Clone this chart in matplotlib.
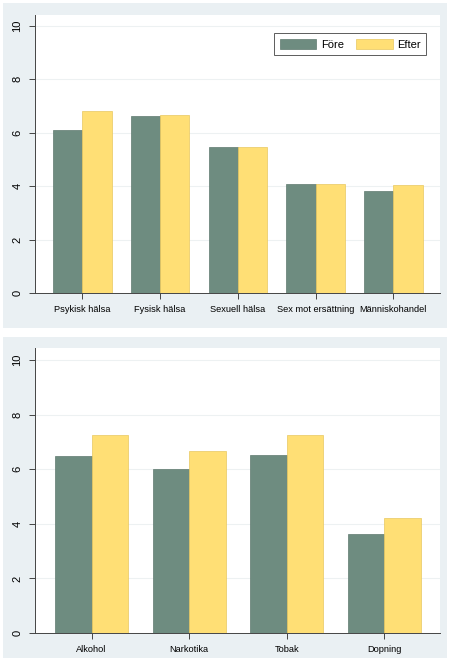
import matplotlib.pyplot as plt
import numpy as np
from matplotlib.patches import Rectangle

plt.rcParams['font.family'] = ['Liberation Sans', 'DejaVu Sans']

# data
cats_top = ['Psykisk hälsa', 'Fysisk hälsa', 'Sexuell hälsa', 'Sex mot ersättning', 'Människohandel']
fore_top = [6.11, 6.61, 5.47, 4.08, 3.83]
efter_top = [6.82, 6.66, 5.46, 4.09, 4.04]

cats_bot = ['Alkohol', 'Narkotika', 'Tobak', 'Dopning']
fore_bot = [6.50, 5.99, 6.52, 3.61]
efter_bot = [7.24, 6.67, 7.27, 4.22]

yticks = [0, 2, 4, 6, 8, 10]

c_fore = '#6e8c80'
c_efter = '#ffdf75'
panel_bg = '#eaf0f3'

W, H = 450, 660
fig = plt.figure(figsize=(4.5, 6.6), dpi=100)
fig.patch.set_facecolor('white')

# light panel backgrounds (pixel boxes -> figure fractions)
for x0, y0, x1, y1 in [(3, 3, 447, 328), (3, 337, 447, 658)]:
    fig.patches.append(Rectangle((x0 / W, 1 - y1 / H), (x1 - x0) / W, (y1 - y0) / H,
                                 transform=fig.transFigure, facecolor=panel_bg,
                                 edgecolor='none', zorder=-10))


def draw(ax, cats, fore, efter, xlim, ytop):
    x = np.arange(len(cats))
    w = 0.375
    ax.bar(x - w / 2, fore, w, color=c_fore, edgecolor='#5f7a6f', linewidth=0.5, label='Före', zorder=3)
    ax.bar(x + w / 2, efter, w, color=c_efter, edgecolor='#e8c860', linewidth=0.5, label='Efter', zorder=3)
    ax.set_xlim(*xlim)
    ax.set_ylim(0, ytop)
    ax.set_xticks(x)
    ax.set_xticklabels(cats, fontsize=6.7)
    ax.set_yticks(yticks)
    ax.set_yticklabels([str(t) for t in yticks], fontsize=8, rotation=90, va='center')
    ax.yaxis.grid(True, color='#edf1f2', linewidth=0.8, zorder=0)
    ax.set_axisbelow(True)
    for s in ['top', 'right']:
        ax.spines[s].set_visible(False)
    for s in ['left', 'bottom']:
        ax.spines[s].set_color('#444444')
        ax.spines[s].set_linewidth(0.7)
    ax.tick_params(axis='both', direction='out', length=4, width=0.7, color='#444444', pad=5)
    ax.set_facecolor('white')


ax1 = fig.add_axes([35 / W, 1 - 293 / H, 405 / W, 278 / H])
draw(ax1, cats_top, fore_top, efter_top, (-0.61, 4.6), 10.41)
leg = ax1.legend(loc='upper right', ncol=2, fontsize=8, frameon=True, fancybox=False,
                 edgecolor='#333333', handlelength=3.3, handleheight=1.05,
                 columnspacing=1.1, handletextpad=0.4, borderpad=0.5,
                 bbox_to_anchor=(0.98, 0.955))
leg.get_frame().set_linewidth(0.7)

ax2 = fig.add_axes([35 / W, 1 - 633 / H, 405 / W, 285 / H])
draw(ax2, cats_bot, fore_bot, efter_bot, (-0.58, 3.57), 10.44)

plt.savefig('out.png', dpi=100)
